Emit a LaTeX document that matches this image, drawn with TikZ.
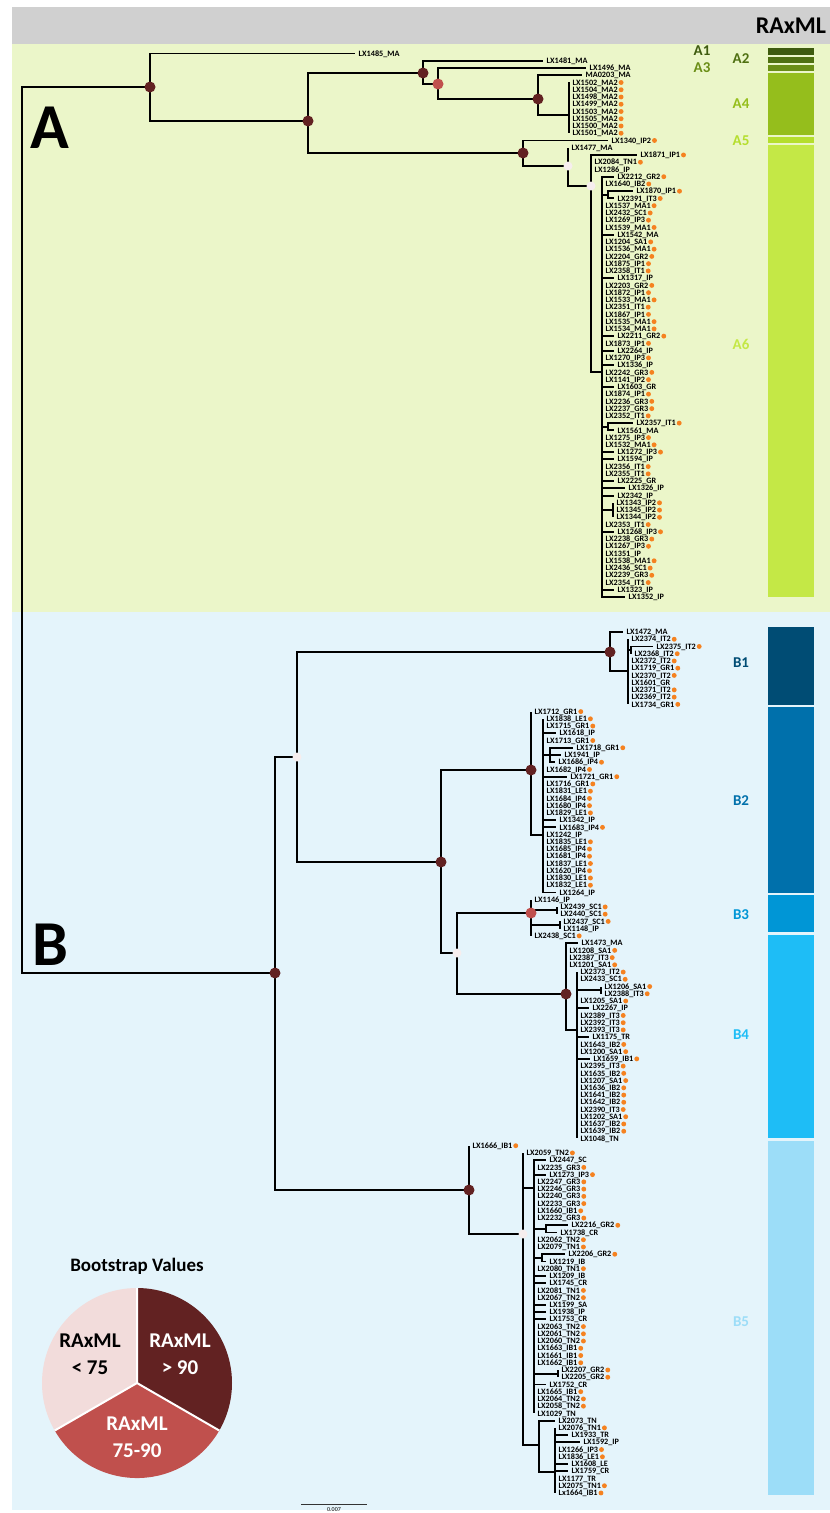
\documentclass[tikz,border=0pt]{standalone}
\usepackage{fontspec}
\setmainfont{Carlito}
\definecolor{hdr}{HTML}{D0D0D0}
\definecolor{pgreen}{HTML}{EBF6C9}
\definecolor{pblue}{HTML}{E4F4FB}
\definecolor{dotc}{HTML}{F58220}
\definecolor{ndark}{HTML}{622222}
\definecolor{npink}{HTML}{C0504D}
\definecolor{nwhite}{HTML}{F6EEEE}
\definecolor{lpink}{HTML}{F2DCDB}
\definecolor{ga1}{HTML}{3E5B0F}
\definecolor{ga2}{HTML}{4F7012}
\definecolor{ga3}{HTML}{6A8E16}
\definecolor{ga4}{HTML}{95BE1C}
\definecolor{ga5}{HTML}{B5DE2E}
\definecolor{ga6}{HTML}{C4E846}
\definecolor{cb1}{HTML}{004C74}
\definecolor{cb2}{HTML}{0070AB}
\definecolor{cb3}{HTML}{0096D6}
\definecolor{cb4}{HTML}{1EBDF6}
\definecolor{cb5}{HTML}{9CDDF8}
\newcommand\leafnode[6]{%
  \coordinate (#1t) at (#3,#4);
  \draw[br] (#2) |- (#1t);
  \node[lab] (#1) at ([xshift=3.5pt]#1t) {#5};
  \ifnum#6=1 \node[odot] (#1d) at ([xshift=3.2pt]#1.east) {};\fi}
\newcommand\leafA[6]{\leafnode{#1}{#2}{#3}{53.5+7.247*#4}{#5}{#6}}
\newcommand\leafB[6]{\leafnode{#1}{#2}{#3}{632+7.235*#4}{#5}{#6}}
\begin{document}
\begin{tikzpicture}[x=1pt,y=-1pt,
  br/.style={line width=1.9pt, line join=miter},
  lab/.style={font=\bfseries\fontsize{8.2}{9}\selectfont, anchor=west, inner sep=0pt, text height=5.3pt, text depth=0pt},
  odot/.style={circle, fill=dotc, inner sep=0pt, minimum size=4.9pt},
  dk/.style={circle, fill=ndark, inner sep=0pt, minimum size=11pt},
  pk/.style={circle, fill=npink, inner sep=0pt, minimum size=11pt},
  wt/.style={circle, fill=nwhite, inner sep=0pt, minimum size=9pt},
  clab/.style={font=\bfseries\fontsize{15}{15}\selectfont, inner sep=0pt},
  big/.style={font=\bfseries\fontsize{64}{64}\selectfont, inner sep=0pt},
  pietxt/.style={font=\bfseries\fontsize{21}{27}\selectfont, align=center, inner sep=0pt}]
\useasboundingbox (0,0) rectangle (830,1513);
% panels
\fill[hdr] (12,7) rectangle (830,44);
\fill[pgreen] (12,44) rectangle (830,612);
\fill[pblue] (12,612) rectangle (830,1510);
\node[font=\bfseries\fontsize{24}{24}\selectfont, inner sep=0pt] (hdrt) at (791,26) {RAxML};
\node[big] (bigA) at (50,128) {A};
\node[big] (bigB) at (50,945) {B};
% clade bars
\fill[ga1] (768,48) rectangle (814,54.5);
\fill[ga2] (768,56.5) rectangle (814,62.5);
\fill[ga3] (768,64.5) rectangle (814,70.5);
\fill[ga4] (768,72.5) rectangle (814,135);
\fill[ga5] (768,137) rectangle (814,143);
\fill[ga6] (768,145) rectangle (814,597);
\fill[cb1] (768,627) rectangle (814,705);
\fill[cb2] (768,707) rectangle (814,893);
\fill[cb3] (768,895) rectangle (814,932);
\fill[cb4] (768,935) rectangle (814,1138);
\fill[cb5] (768,1141) rectangle (814,1495);
\node[clab, text=ga1] (lA1) at (702,51) {A1};
\node[clab, text=ga3] (lA3) at (702,68) {A3};
\node[clab, text=ga2] (lA2) at (741,59) {A2};
\node[clab, text=ga4] (lA4) at (741,104) {A4};
\node[clab, text=ga5] (lA5) at (741,141) {A5};
\node[clab, text=ga6] (lA6) at (741,344) {A6};
\node[clab, text=cb1] (lB1) at (741,663) {B1};
\node[clab, text=cb2] (lB2) at (741,801) {B2};
\node[clab, text=cb3] (lB3) at (741,915) {B3};
\node[clab, text=cb4] (lB4) at (741,1035) {B4};
\node[clab, text=cb5] (lB5) at (741,1322) {B5};
% internal node positions
\coordinate (root) at (22,530);
\coordinate (nA) at (150,87);
\coordinate (nA2) at (308,121);
\coordinate (nA3) at (423,73);
\coordinate (nA4) at (438,84);
\coordinate (nA4b) at (538,99);
\coordinate (nMA) at (569,115);
\coordinate (nA5) at (523,153);
\coordinate (nA6) at (568,166);
\coordinate (nA7) at (591,186);
\coordinate (nA8) at (602,372);
\coordinate (sA1) at (608,195);
\coordinate (sA2) at (608,427);
\coordinate (sA3) at (613,510);
\coordinate (nB) at (275,973);
\coordinate (nB1p) at (297,757);
\coordinate (nB1) at (610,652);
\coordinate (nB1s) at (628,671);
\coordinate (sB1) at (631,650);
\coordinate (nB2p) at (441,862);
\coordinate (nB2) at (531,770);
\coordinate (nB2s) at (543,835);
\coordinate (sB2) at (550,755);
\coordinate (nB34) at (457,953);
\coordinate (nB3) at (531,913);
\coordinate (sB3a) at (557,910);
\coordinate (sB3b) at (560,925);
\coordinate (nB4) at (566,994);
\coordinate (nB4s) at (577,1030);
\coordinate (sB4) at (601,990);
\coordinate (nB5) at (469,1190);
\coordinate (nB5w) at (523,1234);
\coordinate (nB5a) at (534,1188);
\coordinate (sB5a) at (546,1229);
\coordinate (sB5b) at (542,1258);
\coordinate (sB5c) at (558,1374);
\coordinate (nB5b) at (539,1445);
\coordinate (nB5c) at (555,1472);
% internal branches
\draw[br] (root) |- (nA);
\draw[br] (root) |- (nB);
\draw[br] (nA) |- (nA2);
\draw[br] (nA2) |- (nA3);
\draw[br] (nA2) |- (nA5);
\draw[br] (nA3) |- (nA4);
\draw[br] (nA4) |- (nA4b);
\draw[br] (nA4b) |- (nMA);
\draw[br] (nA5) |- (nA6);
\draw[br] (nA6) |- (nA7);
\draw[br] (nA7) |- (nA8);
\draw[br] (nA8) |- (sA1);
\draw[br] (nA8) |- (sA2);
\draw[br] (nA8) |- (sA3);
\draw[br] (nB) |- (nB1p);
\draw[br] (nB) |- (nB5);
\draw[br] (nB1p) |- (nB1);
\draw[br] (nB1p) |- (nB2p);
\draw[br] (nB1) |- (nB1s);
\draw[br] (nB1s) |- (sB1);
\draw[br] (nB2p) |- (nB2);
\draw[br] (nB2p) |- (nB34);
\draw[br] (nB2) |- (nB2s);
\draw[br] (nB2s) |- (sB2);
\draw[br] (nB34) |- (nB3);
\draw[br] (nB34) |- (nB4);
\draw[br] (nB3) |- (sB3a);
\draw[br] (nB3) |- (sB3b);
\draw[br] (nB4) |- (nB4s);
\draw[br] (nB4s) |- (sB4);
\draw[br] (nB5) |- (nB5w);
\draw[br] (nB5w) |- (nB5a);
\draw[br] (nB5w) |- (nB5b);
\draw[br] (nB5a) |- (sB5a);
\draw[br] (nB5a) |- (sB5b);
\draw[br] (nB5a) |- (sB5c);
\draw[br] (nB5b) |- (nB5c);
% A leaves
\leafA{x1485}{nA}{355}{0}{LX1485\_MA}{0}
\leafA{x1481}{nA3}{543}{1}{LX1481\_MA}{0}
\leafA{x1496}{nA4}{586}{2}{LX1496\_MA}{0}
\leafA{x0203}{nA4b}{582}{3}{MA0203\_MA}{0}
\leafA{x1502}{nMA}{569}{4}{LX1502\_MA2}{1}
\leafA{x1504}{nMA}{569}{5}{LX1504\_MA2}{1}
\leafA{x1498}{nMA}{569}{6}{LX1498\_MA2}{1}
\leafA{x1499}{nMA}{569}{7}{LX1499\_MA2}{1}
\leafA{x1503}{nMA}{569}{8}{LX1503\_MA2}{1}
\leafA{x1505}{nMA}{569}{9}{LX1505\_MA2}{1}
\leafA{x1500}{nMA}{569}{10}{LX1500\_MA2}{1}
\leafA{x1501}{nMA}{569}{11}{LX1501\_MA2}{1}
\leafA{x1340}{nA5}{608}{12}{LX1340\_IP2}{1}
\leafA{x1477}{nA6}{568}{13}{LX1477\_MA}{0}
\leafA{x1871}{nA7}{637}{14}{LX1871\_IP1}{1}
\leafA{x2084}{nA7}{591}{15}{LX2084\_TN1}{1}
\leafA{x1286}{nA7}{591}{16}{LX1286\_IP}{0}
\leafA{x2212}{nA8}{614}{17}{LX2212\_GR2}{1}
\leafA{x1640}{nA8}{602}{18}{LX1640\_IB2}{1}
\leafA{x1870}{sA1}{633}{19}{LX1870\_IP1}{1}
\leafA{x2391}{sA1}{614}{20}{LX2391\_IT3}{1}
\leafA{x1537}{nA8}{602}{21}{LX1537\_MA1}{1}
\leafA{x2432}{nA8}{602}{22}{LX2432\_SC1}{1}
\leafA{x1269}{nA8}{602}{23}{LX1269\_IP3}{1}
\leafA{x1539}{nA8}{602}{24}{LX1539\_MA1}{1}
\leafA{x1542}{nA8}{614}{25}{LX1542\_MA}{0}
\leafA{x1204}{nA8}{602}{26}{LX1204\_SA1}{1}
\leafA{x1536}{nA8}{602}{27}{LX1536\_MA1}{1}
\leafA{x2204}{nA8}{602}{28}{LX2204\_GR2}{1}
\leafA{x1875}{nA8}{602}{29}{LX1875\_IP1}{1}
\leafA{x2358}{nA8}{602}{30}{LX2358\_IT1}{1}
\leafA{x1317}{nA8}{614}{31}{LX1317\_IP}{0}
\leafA{x2203}{nA8}{602}{32}{LX2203\_GR2}{1}
\leafA{x1872}{nA8}{602}{33}{LX1872\_IP1}{1}
\leafA{x1533}{nA8}{602}{34}{LX1533\_MA1}{1}
\leafA{x2351}{nA8}{602}{35}{LX2351\_IT1}{1}
\leafA{x1867}{nA8}{602}{36}{LX1867\_IP1}{1}
\leafA{x1535}{nA8}{602}{37}{LX1535\_MA1}{1}
\leafA{x1534}{nA8}{602}{38}{LX1534\_MA1}{1}
\leafA{x2211}{nA8}{614}{39}{LX2211\_GR2}{1}
\leafA{x1873}{nA8}{602}{40}{LX1873\_IP1}{1}
\leafA{x2264}{nA8}{614}{41}{LX2264\_IP}{0}
\leafA{x1270}{nA8}{602}{42}{LX1270\_IP3}{1}
\leafA{x1336}{nA8}{614}{43}{LX1336\_IP}{0}
\leafA{x2242}{nA8}{602}{44}{LX2242\_GR3}{1}
\leafA{x1141}{nA8}{602}{45}{LX1141\_IP2}{1}
\leafA{x1603}{nA8}{614}{46}{LX1603\_GR}{0}
\leafA{x1874}{nA8}{602}{47}{LX1874\_IP1}{1}
\leafA{x2236}{nA8}{602}{48}{LX2236\_GR3}{1}
\leafA{x2237}{nA8}{602}{49}{LX2237\_GR3}{1}
\leafA{x2352}{nA8}{602}{50}{LX2352\_IT1}{1}
\leafA{x2357}{sA2}{633}{51}{LX2357\_IT1}{1}
\leafA{x1561}{sA2}{614}{52}{LX1561\_MA}{0}
\leafA{x1275}{nA8}{602}{53}{LX1275\_IP3}{1}
\leafA{x1532}{nA8}{602}{54}{LX1532\_MA1}{1}
\leafA{x1272}{nA8}{614}{55}{LX1272\_IP3}{1}
\leafA{x1594}{nA8}{614}{56}{LX1594\_IP}{0}
\leafA{x2356}{nA8}{602}{57}{LX2356\_IT1}{1}
\leafA{x2355}{nA8}{602}{58}{LX2355\_IT1}{1}
\leafA{x2225}{nA8}{614}{59}{LX2225\_GR}{0}
\leafA{x1326}{nA8}{625}{60}{LX1326\_IP}{0}
\leafA{x2342}{nA8}{614}{61}{LX2342\_IP}{0}
\leafA{x1343}{sA3}{613}{62}{LX1343\_IP2}{1}
\leafA{x1345}{sA3}{613}{63}{LX1345\_IP2}{1}
\leafA{x1344}{sA3}{613}{64}{LX1344\_IP2}{1}
\leafA{x2353}{nA8}{602}{65}{LX2353\_IT1}{1}
\leafA{x1268}{nA8}{614}{66}{LX1268\_IP3}{1}
\leafA{x2238}{nA8}{602}{67}{LX2238\_GR3}{1}
\leafA{x1267}{nA8}{602}{68}{LX1267\_IP3}{1}
\leafA{x1351}{nA8}{602}{69}{LX1351\_IP}{0}
\leafA{x1538}{nA8}{602}{70}{LX1538\_MA1}{1}
\leafA{x2436}{nA8}{602}{71}{LX2436\_SC1}{1}
\leafA{x2239}{nA8}{602}{72}{LX2239\_GR3}{1}
\leafA{x2354}{nA8}{602}{73}{LX2354\_IT1}{1}
\leafA{x1323}{nA8}{614}{74}{LX1323\_IP}{0}
\leafA{x1352}{nA8}{625}{75}{LX1352\_IP}{0}
% B leaves
\leafB{x1472}{nB1}{623}{0}{LX1472\_MA}{0}
\leafB{x2374}{nB1s}{628}{1}{LX2374\_IT2}{1}
\leafB{x2375}{sB1}{653}{2}{LX2375\_IT2}{1}
\leafB{x2368}{sB1}{631}{3}{LX2368\_IT2}{1}
\leafB{x2372}{nB1s}{628}{4}{LX2372\_IT2}{1}
\leafB{x1719}{nB1s}{628}{5}{LX1719\_GR1}{1}
\leafB{x2370}{nB1s}{628}{6}{LX2370\_IT2}{1}
\leafB{x1601}{nB1s}{628}{7}{LX1601\_GR}{0}
\leafB{x2371}{nB1s}{628}{8}{LX2371\_IT2}{1}
\leafB{x2369}{nB1s}{628}{9}{LX2369\_IT2}{1}
\leafB{x1734}{nB1s}{628}{10}{LX1734\_GR1}{1}
\leafB{x1712}{nB2}{531}{11}{LX1712\_GR1}{1}
\leafB{x1838}{nB2s}{543}{12}{LX1838\_LE1}{1}
\leafB{x1715}{nB2s}{543}{13}{LX1715\_GR1}{1}
\leafB{x1618}{nB2s}{556}{14}{LX1618\_IP}{0}
\leafB{x1713}{nB2s}{543}{15}{LX1713\_GR1}{1}
\leafB{x1718}{sB2}{573}{16}{LX1718\_GR1}{1}
\leafB{x1941}{sB2}{561}{17}{LX1941\_IP}{0}
\leafB{x1686}{sB2}{555}{18}{LX1686\_IP4}{1}
\leafB{x1682}{nB2s}{543}{19}{LX1682\_IP4}{1}
\leafB{x1721}{nB2s}{567}{20}{LX1721\_GR1}{1}
\leafB{x1716}{nB2s}{543}{21}{LX1716\_GR1}{1}
\leafB{x1831}{nB2s}{543}{22}{LX1831\_LE1}{1}
\leafB{x1684}{nB2s}{543}{23}{LX1684\_IP4}{1}
\leafB{x1680}{nB2s}{543}{24}{LX1680\_IP4}{1}
\leafB{x1829}{nB2s}{543}{25}{LX1829\_LE1}{1}
\leafB{x1342}{nB2s}{556}{26}{LX1342\_IP}{0}
\leafB{x1683}{nB2s}{556}{27}{LX1683\_IP4}{1}
\leafB{x1242}{nB2s}{543}{28}{LX1242\_IP}{0}
\leafB{x1835}{nB2s}{543}{29}{LX1835\_LE1}{1}
\leafB{x1685}{nB2s}{543}{30}{LX1685\_IP4}{1}
\leafB{x1681}{nB2s}{543}{31}{LX1681\_IP4}{1}
\leafB{x1837}{nB2s}{543}{32}{LX1837\_LE1}{1}
\leafB{x1620}{nB2s}{543}{33}{LX1620\_IP4}{1}
\leafB{x1830}{nB2s}{543}{34}{LX1830\_LE1}{1}
\leafB{x1832}{nB2s}{543}{35}{LX1832\_LE1}{1}
\leafB{x1264}{nB2s}{556}{36}{LX1264\_IP}{0}
\leafB{x1146}{nB3}{531}{37}{LX1146\_IP}{0}
\leafB{x2439}{sB3a}{557}{38}{LX2439\_SC1}{1}
\leafB{x2440}{sB3a}{557}{39}{LX2440\_SC1}{1}
\leafB{x2437}{sB3b}{560}{40}{LX2437\_SC1}{1}
\leafB{x1148}{sB3b}{560}{41}{LX1148\_IP}{0}
\leafB{x2438}{nB3}{531}{42}{LX2438\_SC1}{1}
\leafB{x1473}{nB4}{578}{43}{LX1473\_MA}{0}
\leafB{x1208}{nB4}{566}{44}{LX1208\_SA1}{1}
\leafB{x2387}{nB4}{566}{45}{LX2387\_IT3}{1}
\leafB{x1201}{nB4}{566}{46}{LX1201\_SA1}{1}
\leafB{x2373}{nB4s}{577}{47}{LX2373\_IT2}{1}
\leafB{x2433}{nB4s}{577}{48}{LX2433\_SC1}{1}
\leafB{x1206}{sB4}{601}{49}{LX1206\_SA1}{1}
\leafB{x2388}{sB4}{601}{50}{LX2388\_IT3}{1}
\leafB{x1205}{nB4s}{577}{51}{LX1205\_SA1}{1}
\leafB{x2267}{nB4s}{589}{52}{LX2267\_IP}{0}
\leafB{x2389}{nB4s}{577}{53}{LX2389\_IT3}{1}
\leafB{x2392}{nB4s}{577}{54}{LX2392\_IT3}{1}
\leafB{x2393}{nB4s}{577}{55}{LX2393\_IT3}{1}
\leafB{x1175}{nB4s}{589}{56}{LX1175\_TR}{0}
\leafB{x1643}{nB4s}{577}{57}{LX1643\_IB2}{1}
\leafB{x1200}{nB4s}{577}{58}{LX1200\_SA1}{1}
\leafB{x1659}{nB4s}{590}{59}{LX1659\_IB1}{1}
\leafB{x2395}{nB4s}{577}{60}{LX2395\_IT3}{1}
\leafB{x1635}{nB4s}{577}{61}{LX1635\_IB2}{1}
\leafB{x1207}{nB4s}{577}{62}{LX1207\_SA1}{1}
\leafB{x1636}{nB4s}{577}{63}{LX1636\_IB2}{1}
\leafB{x1641}{nB4s}{577}{64}{LX1641\_IB2}{1}
\leafB{x1642}{nB4s}{577}{65}{LX1642\_IB2}{1}
\leafB{x2390}{nB4s}{577}{66}{LX2390\_IT3}{1}
\leafB{x1202}{nB4s}{577}{67}{LX1202\_SA1}{1}
\leafB{x1637}{nB4s}{577}{68}{LX1637\_IB2}{1}
\leafB{x1639}{nB4s}{577}{69}{LX1639\_IB2}{1}
\leafB{x1048}{nB4s}{577}{70}{LX1048\_TN}{0}
\leafB{x1666}{nB5}{469}{71}{LX1666\_IB1}{1}
\leafB{x2059}{nB5w}{523}{72}{LX2059\_TN2}{1}
\leafB{x2447}{nB5a}{546}{73}{LX2447\_SC}{0}
\leafB{x2235}{nB5a}{534}{74}{LX2235\_GR3}{1}
\leafB{x1273}{nB5a}{546}{75}{LX1273\_IP3}{1}
\leafB{x2247}{nB5a}{534}{76}{LX2247\_GR3}{1}
\leafB{x2246}{nB5a}{534}{77}{LX2246\_GR3}{1}
\leafB{x2240}{nB5a}{534}{78}{LX2240\_GR3}{1}
\leafB{x2233}{nB5a}{534}{79}{LX2233\_GR3}{1}
\leafB{x1660}{nB5a}{534}{80}{LX1660\_IB1}{1}
\leafB{x2232}{nB5a}{534}{81}{LX2232\_GR3}{1}
\leafB{x2216}{sB5a}{568}{82}{LX2216\_GR2}{1}
\leafB{x1738}{sB5a}{557}{83}{LX1738\_CR}{0}
\leafB{x2062}{nB5a}{534}{84}{LX2062\_TN2}{1}
\leafB{x2079}{nB5a}{534}{85}{LX2079\_TN1}{1}
\leafB{x2206}{sB5b}{565}{86}{LX2206\_GR2}{1}
\leafB{x1219}{sB5b}{546}{87}{LX1219\_IB}{0}
\leafB{x2080}{nB5a}{534}{88}{LX2080\_TN1}{1}
\leafB{x1209}{nB5a}{546}{89}{LX1209\_IB}{0}
\leafB{x1745}{nB5a}{546}{90}{LX1745\_CR}{0}
\leafB{x2081}{nB5a}{534}{91}{LX2081\_TN1}{1}
\leafB{x2067}{nB5a}{534}{92}{LX2067\_TN2}{1}
\leafB{x1199}{nB5a}{546}{93}{LX1199\_SA}{0}
\leafB{x1938}{nB5a}{546}{94}{LX1938\_IP}{0}
\leafB{x1753}{nB5a}{546}{95}{LX1753\_CR}{0}
\leafB{x2063}{nB5a}{534}{96}{LX2063\_TN2}{1}
\leafB{x2061}{nB5a}{534}{97}{LX2061\_TN2}{1}
\leafB{x2060}{nB5a}{534}{98}{LX2060\_TN2}{1}
\leafB{x1663}{nB5a}{534}{99}{LX1663\_IB1}{1}
\leafB{x1661}{nB5a}{534}{100}{LX1661\_IB1}{1}
\leafB{x1662}{nB5a}{534}{101}{LX1662\_IB1}{1}
\leafB{x2207}{sB5c}{558}{102}{LX2207\_GR2}{1}
\leafB{x2205}{sB5c}{558}{103}{LX2205\_GR2}{1}
\leafB{x1752}{nB5a}{546}{104}{LX1752\_CR}{0}
\leafB{x1665}{nB5a}{534}{105}{LX1665\_IB1}{1}
\leafB{x2064}{nB5a}{534}{106}{LX2064\_TN2}{1}
\leafB{x2058}{nB5a}{534}{107}{LX2058\_TN2}{1}
\leafB{x1029}{nB5a}{534}{108}{LX1029\_TN}{0}
\leafB{x2073}{nB5b}{555}{109}{LX2073\_TN}{0}
\leafB{x2076}{nB5c}{555}{110}{LX2076\_TN1}{1}
\leafB{x1933}{nB5c}{568}{111}{LX1933\_TR}{0}
\leafB{x1592}{nB5c}{580}{112}{LX1592\_IP}{0}
\leafB{x1266}{nB5c}{555}{113}{LX1266\_IP3}{1}
\leafB{x1836}{nB5c}{555}{114}{LX1836\_LE1}{1}
\leafB{x1608}{nB5c}{568}{115}{LX1608\_LE}{0}
\leafB{x1759}{nB5c}{568}{116}{LX1759\_CR}{0}
\leafB{x1177}{nB5c}{555}{117}{LX1177\_TR}{0}
\leafB{x2075}{nB5c}{555}{118}{LX2075\_TN1}{1}
\leafB{x1664}{nB5c}{555}{119}{Lx1664\_IB1}{1}
% node support circles
\node[dk] (cA) at (nA) {};
\node[dk] (cA2) at (nA2) {};
\node[dk] (cA3) at (nA3) {};
\node[pk] (cA4) at (nA4) {};
\node[dk] (cA4b) at (nA4b) {};
\node[dk] (cA5) at (nA5) {};
\node[wt] (cA6) at (nA6) {};
\node[wt] (cA7) at (nA7) {};
\node[dk] (cB) at (nB) {};
\node[wt] (cB1p) at (nB1p) {};
\node[dk] (cB1) at (nB1) {};
\node[dk] (cB2p) at (nB2p) {};
\node[dk] (cB2) at (nB2) {};
\node[wt] (cB34) at (nB34) {};
\node[pk] (cB3) at (nB3) {};
\node[dk] (cB4) at (nB4) {};
\node[dk] (cB5) at (nB5) {};
\node[wt] (cB5w) at (nB5w) {};
% scale bar
\coordinate (s1) at (301,1504.5);
\coordinate (s2) at (367,1504.5);
\draw[line width=0.8pt, black!80] (s1) -- (s2);
\node[font=\fontsize{6}{7}\selectfont, anchor=north, inner sep=0pt] (sct) at (334,1507) {0.007};
% legend
\node[font=\bfseries\fontsize{19}{19}\selectfont, inner sep=0pt] (legt) at (137,1266) {Bootstrap Values};
\coordinate (pc) at (137,1383);
\fill[lpink] (pc) -- ++(-90:95) arc[start angle=-90, end angle=-210, radius=95] -- cycle;
\fill[ndark] (pc) -- ++(-90:95) arc[start angle=-90, end angle=30, radius=95] -- cycle;
\fill[npink] (pc) -- ++(150:95) arc[start angle=150, end angle=30, radius=95] -- cycle;
\draw[white, line width=2pt] (pc) -- ++(-90:95) (pc) -- ++(30:95) (pc) -- ++(150:95);
\node[pietxt, text=black] (p1) at (90,1354) {RAxML\\< 75};
\node[pietxt, text=white] (p2) at (180,1354) {RAxML\\> 90};
\node[pietxt, text=white] (p3) at (137,1437) {RAxML\\75-90};
\end{tikzpicture}
\end{document}
